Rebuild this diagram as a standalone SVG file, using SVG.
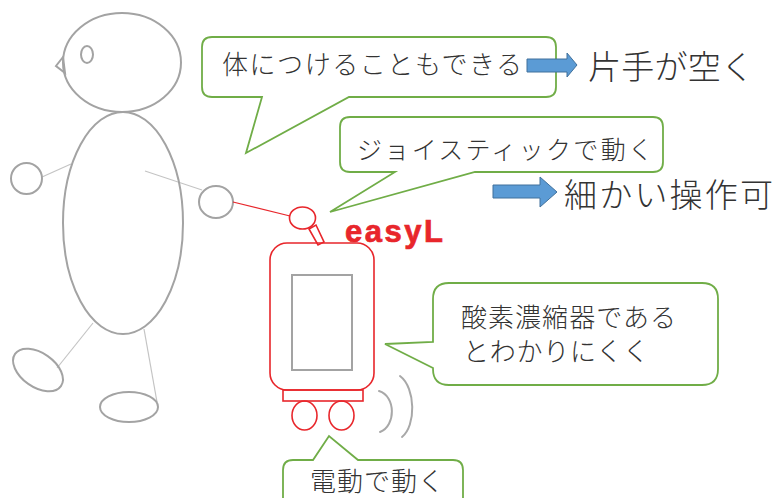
<svg xmlns="http://www.w3.org/2000/svg" width="775" height="498" viewBox="0 0 775 498">
  <style>
    .fig { fill: none; stroke: #a3a3a3; stroke-width: 2; }
    .limb { fill: none; stroke: #c4c4c4; stroke-width: 1.2; }
    .dev { fill: none; stroke: #e8262b; stroke-width: 1.6; }
    .bubble { fill: #ffffff; stroke: #70ad47; stroke-width: 1.8; stroke-linejoin: miter; }
    .jp { font-family: "Noto Sans CJK JP", "Noto Sans", sans-serif; fill: #333333; font-weight: 300; }
    .arrow { fill: #5b9bd5; stroke: #41719c; stroke-width: 1; }
    .wave { fill: none; stroke: #a8a8a8; stroke-width: 2; stroke-linecap: round; }
  </style>

  <!-- person -->
  <g id="person">
    <line class="limb" x1="42" y1="177" x2="71" y2="164"/>
    <line class="limb" x1="145" y1="171" x2="202" y2="190"/>
    <line class="limb" x1="93" y1="323" x2="57" y2="368"/>
    <line class="limb" x1="144" y1="329" x2="157" y2="402"/>
    <ellipse class="fig" cx="122" cy="62.5" rx="59" ry="49.5"/>
    <ellipse class="fig" cx="87" cy="54.5" rx="6" ry="8.5"/>
    <polygon class="fig" points="63,57 56,66 65,73"/>
    <ellipse class="fig" cx="123" cy="223" rx="60" ry="111"/>
    <circle class="fig" cx="26.5" cy="178.5" r="15.5"/>
    <ellipse class="fig" cx="216" cy="202" rx="17" ry="16"/>
    <ellipse class="fig" cx="38" cy="370" rx="28" ry="17" transform="rotate(35 38 370)"/>
    <ellipse class="fig" cx="129" cy="407" rx="29" ry="15"/>
  </g>

  <!-- easyL device -->
  <g id="easyL">
    <line x1="233" y1="202" x2="290" y2="216" stroke="#e8262b" stroke-width="1.2"/>
    <polygon class="dev" points="309,229 316,225 324,242 318,245" fill="#ffffff"/>
    <ellipse class="dev" cx="302.5" cy="218" rx="13" ry="11" fill="#ffffff"/>
    <rect class="dev" x="270" y="243" width="104" height="147" rx="17"/>
    <rect x="292" y="275" width="60" height="95" fill="none" stroke="#a3a3a3" stroke-width="2"/>
    <rect class="dev" x="283" y="390" width="80" height="11"/>
    <ellipse class="dev" cx="304.5" cy="415.5" rx="12.5" ry="14.5"/>
    <ellipse class="dev" cx="341.5" cy="415.5" rx="12.5" ry="14.5"/>
    <path class="wave" d="M379,391 C396,396 396,426 380,432"/>
    <path class="wave" d="M400,376 C416,388 416,426 402,437"/>
    <text x="345" y="242" font-family="Liberation Sans, Arial, sans-serif" font-weight="bold" font-size="31" fill="#e8262b" stroke="#e8262b" stroke-width="0.7" textLength="98" lengthAdjust="spacing">easyL</text>
  </g>

  <!-- callouts -->
  <g id="callout-body">
    <path class="bubble" d="M212,37 H546 Q556,37 556,47 V87 Q556,97 546,97 H349 L246,153 L262,97 H212 Q202,97 202,87 V47 Q202,37 212,37 Z"/>
    <text class="jp" x="222" y="73.5" font-size="26" textLength="300" lengthAdjust="spacing">体につけることもできる</text>
  </g>

  <g id="callout-joystick">
    <path class="bubble" d="M350,117 H653 Q663,117 663,127 V162 Q663,172 653,172 H475 L330,212 L395,172 H350 Q340,172 340,162 V127 Q340,117 350,117 Z"/>
    <text class="jp" x="357" y="158.5" font-size="25" textLength="296" lengthAdjust="spacing">ジョイスティックで動く</text>
  </g>

  <g id="callout-concentrator">
    <path class="bubble" d="M449,283 H702 Q718,283 718,299 V369 Q718,385 702,385 H449 Q433,385 433,369 V368 L385,344 L433,342 V299 Q433,283 449,283 Z"/>
    <text class="jp" x="461" y="327" font-size="26" textLength="215" lengthAdjust="spacing">酸素濃縮器である</text>
    <text class="jp" x="463" y="360.5" font-size="26" textLength="186" lengthAdjust="spacing">とわかりにくく</text>
  </g>

  <g id="callout-electric">
    <path class="bubble" d="M293,460 H313 L329,436 L358,460 H453 Q463,460 463,470 V510 H283 V470 Q283,460 293,460 Z"/>
    <text class="jp" x="310" y="491" font-size="26" textLength="134" lengthAdjust="spacing">電動で動く</text>
  </g>

  <!-- result arrows -->
  <g id="connectors">
    <polygon class="arrow" points="527,59 567,59 567,53 577,65 567,77 567,72 527,72"/>
    <polygon class="arrow" points="493,185 540,185 540,177 557,192 540,207 540,198 493,198"/>
  </g>

  <g id="result-hands">
    <text class="jp" x="588" y="79" font-size="33" textLength="166" lengthAdjust="spacing">片手が空く</text>
  </g>
  <g id="result-control">
    <text class="jp" x="564" y="207" font-size="33" textLength="209" lengthAdjust="spacing">細かい操作可</text>
  </g>
</svg>
